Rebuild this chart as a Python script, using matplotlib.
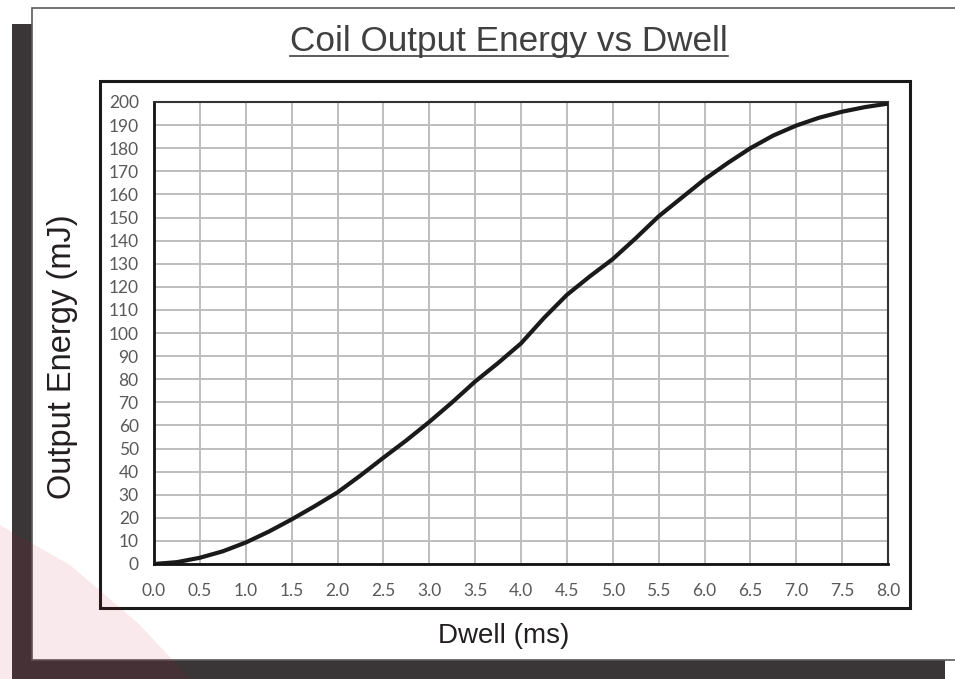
"""Coil output energy vs dwell time, redrawn from the reference sheet."""

import matplotlib.pyplot as plt
from matplotlib.patches import Rectangle, Polygon
from matplotlib.lines import Line2D

W, H = 955, 679

# dwell time (ms) and output energy (mJ)
dwell = [0.0, 0.25, 0.5, 0.75, 1.0, 1.25, 1.5, 1.75, 2.0, 2.25, 2.5, 2.75,
         3.0, 3.25, 3.5, 3.75, 4.0, 4.25, 4.5, 4.75, 5.0, 5.25, 5.5, 5.75,
         6.0, 6.25, 6.5, 6.75, 7.0, 7.25, 7.5, 7.75, 8.0]
energy = [0.0, 0.8, 2.7, 5.5, 9.3, 14.0, 19.3, 25.0, 31.0, 38.3, 46.0, 53.5,
          61.5, 70.0, 79.0, 87.0, 95.5, 106.5, 116.5, 124.5, 132.0, 141.0,
          150.5, 158.5, 166.5, 173.5, 180.0, 185.5, 189.8, 193.2, 195.8,
          197.8, 199.3]

x_ticks = [i * 0.5 for i in range(17)]
y_ticks = list(range(0, 201, 10))


def box(x0, y0, x1, y1):
    """pixel box (top-left origin) -> figure fraction rect"""
    return [x0 / W, 1 - y1 / H, (x1 - x0) / W, (y1 - y0) / H]


def fpt(x, y):
    return (x / W, 1 - y / H)


fig = plt.figure(figsize=(W / 100, H / 100), dpi=100)
fig.patch.set_facecolor("white")

# drop shadow + white sheet
l, b, w, h = box(12, 24, 945, 690)
fig.add_artist(Rectangle((l, b), w, h, transform=fig.transFigure,
                         facecolor="#3a3637", edgecolor="none", zorder=0))
l, b, w, h = box(32, 8, 960, 660)
fig.add_artist(Rectangle((l, b), w, h, transform=fig.transFigure,
                         facecolor="white", edgecolor="#5a5a5a", lw=1.2, zorder=0))
# chart frame
l, b, w, h = box(100, 81, 910, 608)
fig.add_artist(Rectangle((l, b), w, h, transform=fig.transFigure,
                         facecolor="white", edgecolor="#1a1a1a", lw=2.2, zorder=0))

# faint red watermark in the lower-left corner
fig.add_artist(Polygon([fpt(0, 525), fpt(70, 565), fpt(140, 625), fpt(190, 679),
                        fpt(0, 679)], closed=True, transform=fig.transFigure,
                       facecolor="#c8102e", alpha=0.09, edgecolor="none", zorder=5))

ax = fig.add_axes(box(154, 102, 888, 564))
ax.set_facecolor("none")
ax.plot(dwell, energy, color="#1a1a1a", lw=3.0, solid_joinstyle="round",
        solid_capstyle="round", zorder=3)

ax.set_xlim(0, 8)
ax.set_ylim(0, 200)
ax.set_xticks(x_ticks)
ax.set_yticks(y_ticks)
ax.set_xticklabels([f"{v:.1f}" for v in x_ticks])
ax.grid(True, color="#bdbdbd", lw=1.4)
ax.set_axisbelow(True)
ax.tick_params(length=0, labelsize=12.5, labelcolor="#595959")
ax.tick_params(axis="x", pad=14)
ax.tick_params(axis="y", pad=11)
for lbl in ax.get_xticklabels() + ax.get_yticklabels():
    lbl.set_fontfamily("Lato")
for side in ["left", "bottom"]:
    ax.spines[side].set_linewidth(2.0)
    ax.spines[side].set_color("#111111")
for side in ["top", "right"]:
    ax.spines[side].set_linewidth(1.5)
    ax.spines[side].set_color("#333333")

title = fig.text(509 / W, 1 - 42 / H, "Coil Output Energy vs Dwell",
                 ha="center", va="center", fontsize=25.3,
                 family="Liberation Sans", color="#404040")
fig.text(62 / W, 1 - 357 / H, "Output Energy (mJ)", ha="center", va="center",
         rotation=90, fontsize=23.5, family="Liberation Sans", color="#231f20")
fig.text(504 / W, 1 - 636 / H, "Dwell (ms)", ha="center", va="center",
         fontsize=20, family="Liberation Sans", color="#231f20")

# underline the title
fig.canvas.draw()
bb = title.get_window_extent().transformed(fig.transFigure.inverted())
uy = 1 - 56 / H
fig.add_artist(Line2D([bb.x0, bb.x1], [uy, uy], transform=fig.transFigure,
                      color="#404040", lw=1.2))

fig.savefig("out.png", dpi=100)
